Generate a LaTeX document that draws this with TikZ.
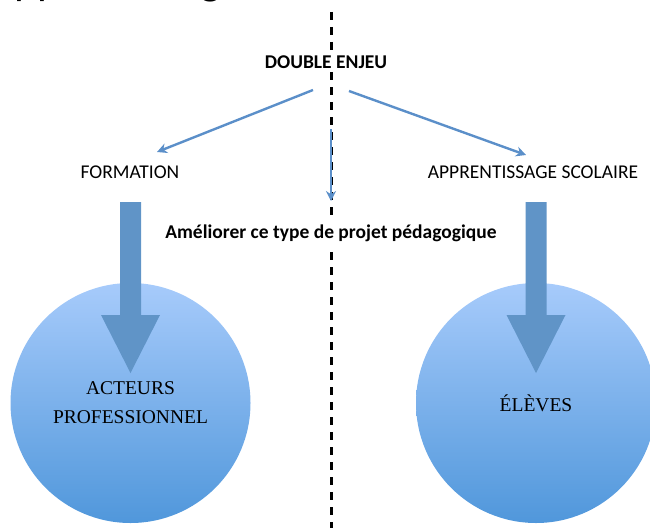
\documentclass[tikz,border=0pt]{standalone}
\usepackage{fontspec}
\usetikzlibrary{arrows.meta}
\newfontfamily\calib{Carlito}
\newfontfamily\tms{Liberation Serif}
\definecolor{thinblue}{RGB}{91,143,201}
\definecolor{bigblue}{RGB}{96,148,199}
\definecolor{ctop}{RGB}{167,203,251}
\definecolor{cbot}{RGB}{80,151,219}
\begin{document}
\begin{tikzpicture}[x=1pt,y=-1pt,
  lbl/.style={font=\calib\fontsize{19.5}{23}\selectfont, inner sep=2pt, anchor=base},
  blbl/.style={font=\calib\bfseries\fontsize{19.5}{23}\selectfont, inner sep=4pt, anchor=base, fill=white},
  disc/.style={circle, minimum size=240pt, inner sep=0pt, draw=none, top color=ctop, bottom color=cbot,
    align=center, font=\tms\fontsize{19.5}{29}\selectfont},
  thinarrow/.style={draw=thinblue, line width=2.4pt, -{Stealth[length=10pt,width=10pt]}},
  bigarrow/.style={fill=bigblue},
  sepline/.style={line width=3pt, dash pattern=on 8pt off 7pt}]
\useasboundingbox (0,0) rectangle (650,527);
\clip (0,0) rectangle (650,527);

% clipped title
\node[anchor=base west, inner sep=0pt, font=\calib\fontsize{44}{50}\selectfont] (title) at (-11,-5) {Apprentissage};

% separator
\coordinate (septop) at (331,12);
\coordinate (sepbot) at (331,535);
\draw[sepline] (septop) -- (sepbot);

% circles
\node[disc] (act) at (130.5,403) {ACTEURS\\PROFESSIONNEL};
\node[disc] (elv) at (536,403) {ÉLÈVES};

% labels
\node[blbl] (enjeu) at (326,68) {DOUBLE ENJEU};
\node[lbl] (form) at (130,178) {FORMATION};
\node[lbl] (appr) at (533,178) {APPRENTISSAGE SCOLAIRE};
\node[blbl] (amel) at (331,238) {Améliorer ce type de projet pédagogique};

% thin arrows
\coordinate (l0) at (313,90);
\coordinate (l1) at (157,152);
\coordinate (r0) at (349,91);
\coordinate (r1) at (526,155);
\coordinate (m0) at (331,129);
\coordinate (m1) at (331,201);
\draw[thinarrow] (l0) -- (l1);
\draw[thinarrow] (r0) -- (r1);
\draw[thinarrow] (m0) -- (m1);

% big arrows
\coordinate (fa) at (130.5,202);
\coordinate (fb) at (536,202);
\fill[bigarrow, shift={(fa)}] (-10.5,0) -- (10.5,0) -- (10.5,113) -- (29.5,113) -- (0,171) -- (-29.5,113) -- (-10.5,113) -- cycle;
\fill[bigarrow, shift={(fb)}] (-10.5,0) -- (10.5,0) -- (10.5,113) -- (29.5,113) -- (0,171) -- (-29.5,113) -- (-10.5,113) -- cycle;
\end{tikzpicture}
\end{document}
